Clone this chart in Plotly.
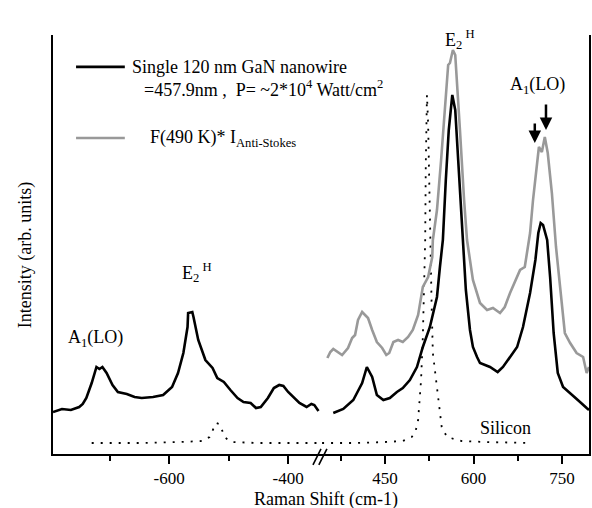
import plotly.graph_objects as go

# ---------------- data (Raman shift in cm-1, intensity in arb. units) ----------------
# anti-Stokes side (left panel), black curve
as_black_x = [-795, -780, -765, -751, -745, -739, -730, -722, -717, -712, -705, -695, -686,
              -671, -658, -646, -627, -610, -595, -585, -576, -569, -568, -561, -559, -551,
              -539, -527, -519, -508, -497, -485, -475, -463, -454, -446, -434, -424, -415,
              -408, -400, -392, -381, -369, -361, -356, -349]
as_black_y = [42, 45, 44, 47, 50, 56, 71, 87, 85, 87, 81, 69, 62,
              60, 57, 56, 57, 59, 67, 81, 101, 127, 141, 142, 137, 114,
              94, 86, 76, 72, 64, 56, 52, 51, 46, 47, 56, 66, 69,
              68, 62, 57, 51, 47, 50, 49, 43]

# Stokes side (right panel), black curve
st_black_x = [362, 379, 396, 411, 419, 428, 436, 447, 458, 470, 480, 492, 504, 514, 526,
              538, 543, 548, 553, 558, 564, 569, 574, 579, 582, 587, 594, 599, 606, 611,
              628, 641, 650, 662, 674, 684, 696, 705, 710, 714, 718, 725, 730, 736, 743,
              752, 764, 777, 792, 796]
st_black_y = [41, 45, 54, 71, 87, 77, 59, 54, 56, 62, 66, 74, 87, 107, 127,
              157, 187, 214, 274, 324, 359, 344, 294, 239, 214, 164, 124, 107, 97, 91,
              87, 82, 87, 97, 107, 127, 161, 194, 221, 231, 229, 214, 177, 121, 81,
              67, 61, 54, 46, 44]

# Stokes side (right panel), grey curve: F(490 K) * I_Anti-Stokes
st_grey_x = [352, 357, 362, 370, 377, 387, 394, 399, 404, 411, 416, 421, 428, 436, 445,
             452, 457, 464, 472, 480, 489, 497, 506, 514, 523, 530, 531, 538, 545, 550,
             557, 560, 565, 569, 572, 577, 584, 589, 599, 611, 623, 633, 645, 653, 662,
             670, 679, 687, 696, 701, 708, 711, 716, 721, 726, 733, 740, 747, 755, 764,
             775, 786, 792, 796]
st_grey_y = [96, 102, 105, 102, 99, 106, 116, 119, 134, 142, 139, 136, 124, 112, 106,
             99, 101, 112, 114, 112, 117, 124, 139, 167, 177, 197, 214, 244, 294, 334,
             389, 391, 404, 399, 374, 324, 254, 214, 174, 151, 144, 146, 141, 147, 161,
             172, 184, 187, 221, 254, 294, 307, 302, 317, 301, 261, 207, 167, 121, 111,
             101, 97, 81, 87]

# silicon reference (dotted), both sides
si_as_x = [-730, -650, -580, -545, -532, -526, -521, -516, -511, -505, -495, -450, -400, -343]
si_as_y = [11, 11, 12, 13, 17, 25, 31, 30, 24, 16, 12, 11, 11, 11]
si_st_x = [343, 400, 450, 480, 495, 501, 506, 511, 514, 516, 518, 519, 521, 523, 525,
           527, 529, 531, 538, 546, 555, 580, 620, 696]
si_st_y = [11, 11, 12, 13, 17, 21, 34, 74, 117, 167, 214, 290, 359, 330, 260,
           194, 147, 101, 64, 27, 17, 13, 12, 11]

# axis ticks
left_ticks = [-600, -400]
left_minor = [-700, -500]
right_ticks = [450, 600, 750]
right_minor = [375, 525, 675]

# arrows marking the A1(LO) doublet (x, y_tip, y_tail)
arrow_x = [704, 723]
arrow_tip = [311, 324]
arrow_tail = [332, 351]

# ---------------- figure ----------------
FONT = "Liberation Serif"
BLACK = "#000000"
GREY = "#999999"

fig = go.Figure()
fig.add_trace(go.Scatter(x=as_black_x, y=as_black_y, mode="lines", xaxis="x", yaxis="y",
                         line=dict(color=BLACK, width=2.6), showlegend=False))
fig.add_trace(go.Scatter(x=si_as_x, y=si_as_y, mode="lines", xaxis="x", yaxis="y",
                         line=dict(color=BLACK, width=1.8, dash="2px,7px"), showlegend=False))
fig.add_trace(go.Scatter(x=si_st_x, y=si_st_y, mode="lines", xaxis="x2", yaxis="y2",
                         line=dict(color=BLACK, width=1.8, dash="2px,7px"), showlegend=False))
fig.add_trace(go.Scatter(x=st_grey_x, y=st_grey_y, mode="lines", xaxis="x2", yaxis="y2",
                         line=dict(color=GREY, width=2.6), showlegend=False))
fig.add_trace(go.Scatter(x=st_black_x, y=st_black_y, mode="lines", xaxis="x2", yaxis="y2",
                         line=dict(color=BLACK, width=2.6), showlegend=False))

axis_common = dict(showgrid=False, zeroline=False, showline=True, linecolor=BLACK, linewidth=2,
                   ticks="outside", ticklen=8, tickwidth=1.5, tickcolor=BLACK,
                   tickfont=dict(family=FONT, size=17, color=BLACK))
minor_common = dict(ticks="outside", ticklen=5, tickwidth=1.5, tickcolor=BLACK)

fig.update_layout(
    width=592, height=508,
    margin=dict(l=53, r=3, t=35, b=54),
    paper_bgcolor="white", plot_bgcolor="white",
    font=dict(family=FONT, size=17, color=BLACK),
    xaxis=dict(domain=[0, 0.502], range=[-795, -343], tickmode="array",
               tickvals=left_ticks, ticktext=[str(v) for v in left_ticks],
               minor=dict(tickvals=left_minor, **minor_common), anchor="y", **axis_common),
    xaxis2=dict(domain=[0.502, 1], range=[343, 796], tickmode="array",
                tickvals=right_ticks, ticktext=[str(v) for v in right_ticks],
                minor=dict(tickvals=right_minor, **minor_common), anchor="y2", **axis_common),
    yaxis=dict(range=[0, 419], showgrid=False, zeroline=False, showline=True, linecolor=BLACK,
               linewidth=2, showticklabels=False, ticks="", anchor="x"),
    yaxis2=dict(range=[0, 419], matches="y", showgrid=False, zeroline=False, showline=True,
                linecolor=BLACK, linewidth=2, showticklabels=False, ticks="", anchor="x2",
                side="right"),
)

ann = []
tf = dict(family=FONT, size=18, color=BLACK)
# axis titles
ann.append(dict(text="Raman Shift (cm-1)", xref="paper", yref="paper", x=0.509, y=-0.108,
                xanchor="center", yanchor="middle", showarrow=False, font=dict(family=FONT, size=18)))
ann.append(dict(text="Intensity (arb. units)", xref="paper", yref="paper", x=-0.050, y=0.475,
                textangle=-90, xanchor="center", yanchor="middle", showarrow=False,
                font=dict(family=FONT, size=18)))
# peak labels
ann.append(dict(text="A<sub>1</sub>(LO)", xref="x", yref="y", x=-724, y=116, showarrow=False, font=tf))
ann.append(dict(text="E<sub>2</sub><sup> H</sup>", xref="x", yref="y", x=-553, y=182, showarrow=False, font=tf))
ann.append(dict(text="E<sub>2</sub><sup> H</sup>", xref="x2", yref="paper", x=577, y=1.024, showarrow=False, font=tf))
ann.append(dict(text="A<sub>1</sub>(LO)", xref="x2", yref="y2", x=709, y=369, showarrow=False, font=tf))
ann.append(dict(text="Silicon", xref="x2", yref="y2", x=655, y=26, showarrow=False, font=tf))
# arrows
for xa, yt, yb in zip(arrow_x, arrow_tip, arrow_tail):
    ann.append(dict(x=xa, y=yt, ax=xa, ay=yb, xref="x2", yref="y2", axref="x2", ayref="y2",
                    text="", showarrow=True, arrowhead=2, arrowsize=1, arrowwidth=2.5,
                    arrowcolor=BLACK))
# legend texts
ann.append(dict(text="Single 120 nm GaN nanowire", xref="paper", yref="paper", x=0.1437, y=0.924,
                xanchor="left", yanchor="middle", showarrow=False, font=tf))
ann.append(dict(text="=457.9nm ,\u00a0 P= ~2*10<sup>4</sup> Watt/cm<sup>2</sup>", xref="paper", yref="paper",
                x=0.166, y=0.8735, xanchor="left", yanchor="middle", showarrow=False, font=tf))
ann.append(dict(text="F(490 K)* I<sub>Anti-Stokes</sub>", xref="paper", yref="paper", x=0.177, y=0.754,
                xanchor="left", yanchor="middle", showarrow=False, font=tf))
fig.update_layout(annotations=ann)

shapes = [
    dict(type="line", xref="paper", yref="paper", x0=0.043, x1=0.134, y0=0.924, y1=0.924,
         line=dict(color=BLACK, width=2.6)),
    dict(type="line", xref="paper", yref="paper", x0=0.043, x1=0.134, y0=0.754, y1=0.754,
         line=dict(color=GREY, width=2.6)),
    # axis break marks
    dict(type="line", xref="paper", yref="paper", x0=0.485, x1=0.500, y0=-0.026, y1=0.012,
         line=dict(color=BLACK, width=1.6)),
    dict(type="line", xref="paper", yref="paper", x0=0.496, x1=0.511, y0=-0.026, y1=0.012,
         line=dict(color=BLACK, width=1.6)),
]
fig.update_layout(shapes=shapes)

fig.write_html("out.html")
